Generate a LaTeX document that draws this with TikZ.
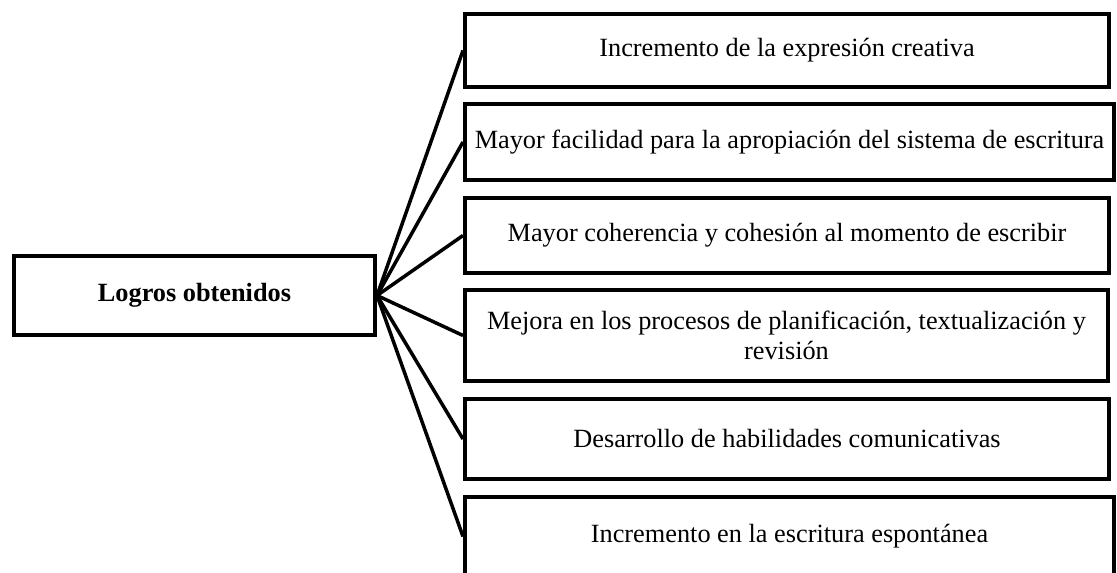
\documentclass[tikz,border=0pt]{standalone}
\usepackage{fontspec}
\setmainfont{Liberation Serif}
\tikzset{
  box/.style={draw=black, line width=4bp, rectangle, inner sep=2bp, align=center,
    font=\fontsize{26.3bp}{30bp}\selectfont},
  conn/.style={draw=black, line width=3.5bp}
}
\begin{document}
\begin{tikzpicture}[x=1bp, y=-1bp]
\clip (0,0) rectangle (1117,573);
\fill[white] (0,0) rectangle (1117,573);
\node[box, minimum width=361bp, minimum height=79bp, font=\fontsize{26.3bp}{30bp}\selectfont\bfseries] (L) at (194.5,295.5) {Logros obtenidos};
\node[box, minimum width=644bp, minimum height=73bp] (B1) at (787,50.5) {Incremento de la expresión creativa};
\node[box, minimum width=649bp, minimum height=76bp, inner sep=0bp] (B2) at (789.5,142) {Mayor facilidad para la apropiación del sistema de escritura};
\node[box, minimum width=644bp, minimum height=75bp] (B3) at (787,235.5) {Mayor coherencia y cohesión al momento de escribir};
\node[box, minimum width=643bp, minimum height=91bp] (B4) at (786.5,335.5) {Mejora en los procesos de planificación, textualización y\\revisión};
\node[box, minimum width=644bp, minimum height=80bp] (B5) at (787,439) {Desarrollo de habilidades comunicativas};
\node[box, minimum width=649bp, minimum height=79bp] (B6) at (789.5,536.5) {Incremento en la escritura espontánea};
\foreach \b in {B1,B2,B3,B4,B5,B6}{
  \draw[conn] (L.east) -- (\b.west);
}
\end{tikzpicture}
\end{document}
